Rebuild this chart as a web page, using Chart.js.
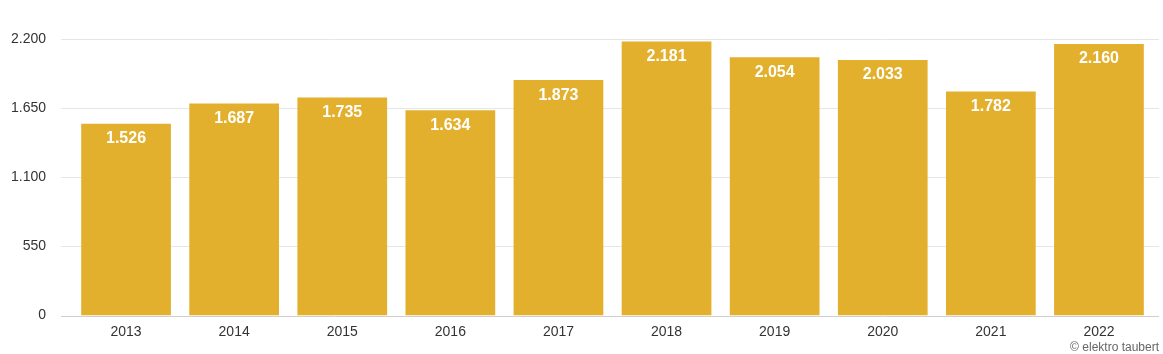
<!DOCTYPE html>
<html>
<head>
<meta charset="utf-8">
<script src="https://cdn.jsdelivr.net/npm/chart.js@4/dist/chart.umd.min.js"></script>
<style>
html,body{margin:0;padding:0;background:#fff;}
#wrap{width:1163px;height:354px;position:relative;}
</style>
</head>
<body>
<div id="wrap"><canvas id="c" width="1163" height="354"></canvas></div>
<script>
const categories = ['2013','2014','2015','2016','2017','2018','2019','2020','2021','2022'];
const values = [1526, 1687, 1735, 1634, 1873, 2181, 2054, 2033, 1782, 2160];
const yTicks = [0, 550, 1100, 1650, 2200];
const creditText = '© elektro taubert';

function fmt(v){
  return String(v).replace(/\B(?=(\d{3})+(?!\d))/g, '.');
}

const gridPlugin = {
  id: 'gridExt',
  beforeDatasetsDraw(chart){
    const ctx = chart.ctx, y = chart.scales.y;
    ctx.save();
    ctx.lineWidth = 1;
    yTicks.forEach(t => {
      const py = Math.round(y.getPixelForValue(t)) + 0.5;
      ctx.strokeStyle = t === 0 ? '#cfcfcf' : '#e6e6e6';
      ctx.beginPath();
      ctx.moveTo(61, py);
      ctx.lineTo(1159, py);
      ctx.stroke();
    });
    ctx.restore();
  },
  afterDatasetsDraw(chart){
    const ctx = chart.ctx;
    const meta = chart.getDatasetMeta(0);
    ctx.save();
    ctx.fillStyle = '#ffffff';
    ctx.font = 'bold 16px "Liberation Sans", Arial, sans-serif';
    ctx.textAlign = 'center';
    ctx.textBaseline = 'middle';
    meta.data.forEach((bar, i) => {
      ctx.fillText(fmt(values[i]), bar.x, bar.y + 15);
    });
    ctx.fillStyle = '#666666';
    ctx.font = '12px "Liberation Sans", Arial, sans-serif';
    ctx.textAlign = 'right';
    ctx.fillText(creditText, 1159, 348);
    ctx.restore();
  }
};

new Chart(document.getElementById('c'), {
  type: 'bar',
  data: {
    labels: categories,
    datasets: [{
      data: values,
      backgroundColor: '#E3B02E',
      borderWidth: 0,
      barPercentage: 0.83,
      categoryPercentage: 1.0
    }]
  },
  options: {
    responsive: false,
    animation: false,
    devicePixelRatio: 1,
    layout: { padding: { top: 39, right: 10, left: 0, bottom: 0 } },
    plugins: { legend: { display: false }, tooltip: { enabled: false } },
    scales: {
      x: {
        grid: { display: false, drawTicks: false },
        border: { display: false },
        ticks: {
          color: '#333333',
          font: { family: '"Liberation Sans", Arial, sans-serif', size: 14 },
          padding: 8,
          maxRotation: 0
        },
        afterFit(scale){ scale.height = 38.5; }
      },
      y: {
        min: 0,
        max: 2200,
        grid: { display: false, drawTicks: false },
        border: { display: false },
        afterBuildTicks(scale){ scale.ticks = yTicks.map(v => ({ value: v })); },
        ticks: {
          color: '#333333',
          font: { family: '"Liberation Sans", Arial, sans-serif', size: 14 },
          padding: 26,
          callback: v => fmt(v)
        },
        afterFit(scale){ scale.width = 72; }
      }
    }
  },
  plugins: [gridPlugin]
});
</script>
</body>
</html>
